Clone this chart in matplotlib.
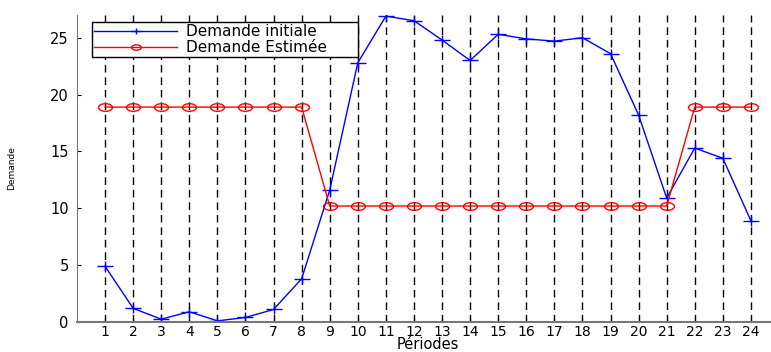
import matplotlib.pyplot as plt
from matplotlib.path import Path

plt.rcParams['font.family'] = ['DejaVu Sans']

# Données
periodes = list(range(1, 25))
demande_initiale = [4.9, 1.2, 0.25, 0.9, 0.1, 0.4, 1.1, 3.8, 11.6, 22.8, 26.9, 26.5,
                    24.8, 23.0, 25.3, 24.9, 24.7, 25.0, 23.6, 18.2, 10.9, 15.3, 14.4, 8.9]
demande_estimee = [18.9] * 8 + [10.2] * 13 + [18.9] * 3

# marqueurs étirés horizontalement comme sur l'image d'origine
circ = Path.unit_circle()
ellipse = Path(circ.vertices * [1.0, 0.55], circ.codes)
plus = Path([(-1, 0), (1, 0), (0, -0.6), (0, 0.6)],
            [Path.MOVETO, Path.LINETO, Path.MOVETO, Path.LINETO])

fig = plt.figure(figsize=(7.71, 3.52), dpi=100)
ax = fig.add_axes([77 / 771, 30 / 352, 702 / 771, 307 / 352])

ax.plot(periodes, demande_initiale, color='blue', marker=plus, markersize=11,
        markeredgewidth=1, linewidth=1, label='Demande initiale')
ax.plot(periodes, demande_estimee, color='red', marker=ellipse, markersize=10,
        fillstyle='none', markeredgewidth=1, linewidth=1, label='Demande Estimée')

ax.set_xlim(0, 25)
ax.set_ylim(0, 27)
ax.set_xticks(periodes)
ax.set_yticks([0, 5, 10, 15, 20, 25])
ax.xaxis.grid(True, color='black', linestyle=(0, (5.5, 3.5)), linewidth=1)
ax.tick_params(direction='in', labelsize=10.5, length=3)
ax.tick_params(axis='x', pad=2, labelsize=10)
ax.tick_params(axis='y', pad=6)
ax.spines['top'].set_visible(False)
ax.spines['right'].set_visible(False)
ax.spines['left'].set_color('#777777')
ax.spines['bottom'].set_color('#777777')
ax.spines['bottom'].set_linewidth(1.5)

ax.set_xlabel('Périodes', fontsize=10.5, labelpad=-1)
ax.set_ylabel('Demande', fontsize=6.5, labelpad=24)

leg = ax.legend(loc='upper left', bbox_to_anchor=(0.0214, 0.977, 0.379, 0),
                mode='expand', borderaxespad=0,
                fontsize=11, fancybox=False, framealpha=1, edgecolor='black',
                borderpad=0.15, labelspacing=0.05, handlelength=5.4,
                handletextpad=0.6, markerscale=0.7)
leg.get_frame().set_linewidth(1)

fig.savefig('out.png', dpi=100)
